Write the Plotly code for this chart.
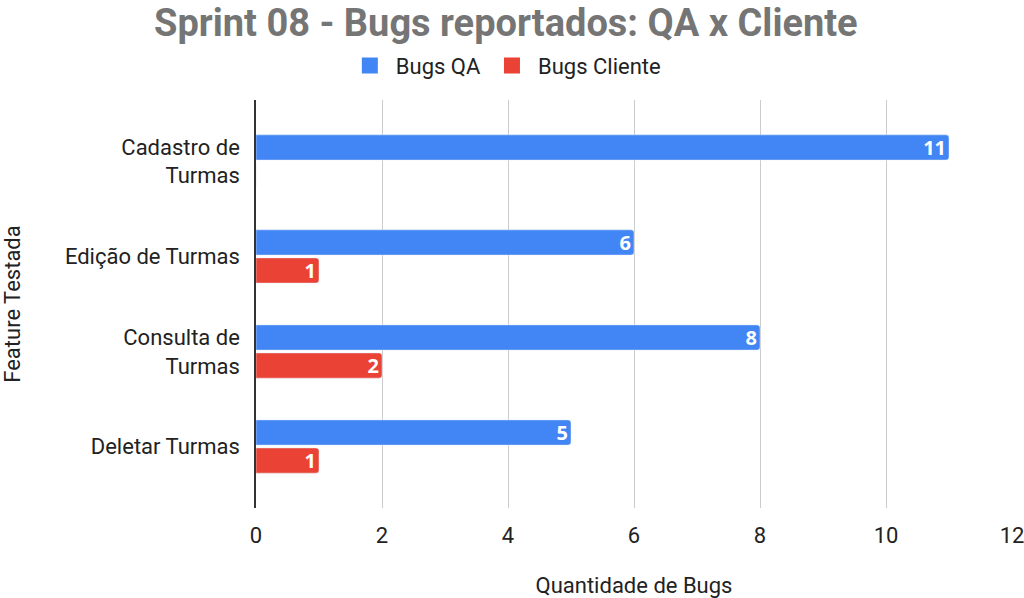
import plotly.graph_objects as go

categories = ["Cadastro de<br>Turmas", "Edição de Turmas", "Consulta de<br>Turmas", "Deletar Turmas"]
bugs_qa = [11, 6, 8, 5]
bugs_cliente = [0, 1, 2, 1]
series_names = ["Bugs QA", "Bugs Cliente"]
series_colors = ["#4285F4", "#EA4335"]

def labels(vals):
    return [str(v) if v else "" for v in vals]

fig = go.Figure()
for name, vals, color in zip(series_names, [bugs_qa, bugs_cliente], series_colors):
    fig.add_trace(go.Bar(
        y=categories, x=vals, name=name, orientation="h", showlegend=False,
        marker=dict(color=color, cornerradius=3),
        text=labels(vals), textposition="inside", insidetextanchor="end",
        textfont=dict(family="Open Sans", size=20, color="white", weight="bold"),
        textangle=0, hoverinfo="x+y+name",
    ))
# legend entries with square swatches
for name, color in zip(series_names, series_colors):
    fig.add_trace(go.Scatter(
        x=[None], y=[None], mode="markers", name=name,
        marker=dict(symbol="square", size=20, color=color),
    ))

FS = 22
fig.update_layout(
    width=1024, height=598,
    margin=dict(l=256, r=12, t=100, b=90, autoexpand=False),
    paper_bgcolor="white", plot_bgcolor="white",
    font=dict(family="Roboto", size=FS, color="#222222"),
    title=dict(text="<b>Sprint 08 - Bugs reportados: QA x Cliente</b>",
               x=0.494, xanchor="center", xref="container",
               y=0.962, yanchor="middle", yref="container",
               font=dict(family="Roboto", size=38, color="#757575")),
    legend=dict(orientation="h", x=0.493, xanchor="center", xref="container",
                y=0.89, yanchor="middle", yref="container", itemsizing="trace",
                itemwidth=42,
                font=dict(size=FS, color="#222222"), traceorder="normal"),
    barmode="group", bargap=0.41, bargroupgap=0.1,
    uniformtext=dict(mode="show", minsize=19),
    xaxis=dict(range=[0, 12], dtick=2, showgrid=True, gridcolor="#cccccc", gridwidth=1,
               zeroline=False, showline=False, ticks="", automargin=False,
               ticklabelstandoff=12, ticklabeloverflow="allow",
               tickfont=dict(size=FS, color="#222222"),
               title=dict(text="Quantidade de Bugs", standoff=30, font=dict(size=FS, color="#222222"))),
    yaxis=dict(autorange=False, range=[3.647, -0.647], type="category", automargin=False,
               showgrid=False, showline=True, linecolor="#333333", linewidth=1.5,
               ticks="", ticklabelstandoff=10,
               tickfont=dict(size=FS, color="#222222"),
               title=dict(text="Feature Testada", standoff=48, font=dict(size=FS, color="#222222"))),
)

fig.write_html("out.html", config={"displayModeBar": False},
               post_script="document.body.style.margin='0';")
